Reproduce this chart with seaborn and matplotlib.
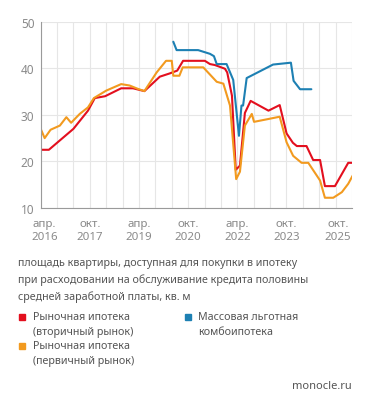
import pandas as pd
import matplotlib.pyplot as plt
import matplotlib.transforms as mtransforms
from matplotlib.lines import Line2D
import seaborn as sns

# values (sq. m)
red_dates = ['2016-04-01', '2016-07-01', '2017-04-01', '2017-09-10', '2017-11-25',
             '2018-03-20', '2018-09-15', '2019-01-25', '2019-06-01', '2019-11-20',
             '2020-03-10', '2020-06-01', '2020-08-05', '2021-04-05', '2021-06-01',
             '2021-07-25', '2021-11-15', '2021-12-10', '2022-02-01', '2022-03-15',
             '2022-05-01', '2022-06-25', '2022-08-28', '2023-03-15', '2023-07-18',
             '2023-10-03', '2023-12-12', '2024-01-25', '2024-05-12', '2024-07-25',
             '2024-10-10', '2024-12-03', '2025-03-25', '2025-08-20', '2025-10-10']
red_vals = [22.5, 22.5, 27.0, 30.9, 33.6,
            34.0, 35.7, 35.7, 35.1, 38.2,
            38.9, 39.5, 41.6, 41.6, 40.9,
            40.7, 39.9, 39.1, 34.1, 18.2,
            19.1, 30.4, 33.0, 30.9, 32.1,
            26.0, 24.0, 23.3, 23.3, 20.3,
            20.3, 14.7, 14.7, 19.7, 19.7]

orange_dates = ['2016-04-01', '2016-05-15', '2016-07-20', '2016-11-01', '2017-01-12',
                '2017-03-06', '2017-06-10', '2017-09-10', '2017-11-15', '2018-04-01',
                '2018-09-15', '2018-12-18', '2019-03-18', '2019-06-01', '2019-10-15',
                '2020-01-28', '2020-04-01', '2020-04-18', '2020-06-25', '2020-08-01',
                '2021-03-18', '2021-08-15', '2021-10-28', '2022-01-10', '2022-03-20',
                '2022-05-01', '2022-06-25', '2022-09-10', '2022-10-05', '2023-03-12',
                '2023-07-18', '2023-10-03', '2023-12-15', '2024-03-18', '2024-06-01',
                '2024-10-10', '2024-12-03', '2025-03-06', '2025-06-10', '2025-08-20',
                '2025-10-10']
orange_vals = [27.0, 25.0, 26.8, 27.7, 29.5,
               28.3, 30.2, 31.6, 33.6, 35.2,
               36.6, 36.3, 35.6, 35.1, 39.1,
               41.6, 41.6, 38.4, 38.4, 40.2,
               40.2, 37.1, 36.7, 32.0, 16.2,
               17.8, 27.7, 30.2, 28.5, 29.1,
               29.6, 24.1, 21.2, 19.7, 19.7,
               15.9, 12.2, 12.2, 13.4, 15.2,
               17.0]

blue_dates = ['2020-04-18', '2020-05-25', '2021-01-20', '2021-06-01', '2021-07-15',
              '2021-08-15', '2021-12-03', '2022-02-15', '2022-04-20', '2022-05-18',
              '2022-06-05', '2022-07-15', '2023-05-05', '2023-11-20', '2023-12-20',
              '2024-03-01', '2024-07-05']
blue_vals = [45.7, 43.9, 43.9, 43.1, 42.6,
             40.9, 40.9, 37.5, 25.5, 32.0,
             32.0, 37.9, 40.8, 41.2, 37.3,
             35.5, 35.5]

series_names = ['Рыночная ипотека\n(вторичный рынок)',
                'Рыночная ипотека\n(первичный рынок)',
                'Массовая льготная\nкомбоипотека']
colors = ['#e30f1e', '#f29a1f', '#1d80b3']

tick_dates = ['2016-04-01', '2017-10-01', '2019-04-01', '2020-10-01',
              '2022-04-01', '2023-10-01', '2025-10-01']
tick_labels = ['апр.\n2016', 'окт.\n2017', 'апр.\n2019', 'окт.\n2020',
               'апр.\n2022', 'окт.\n2023', 'окт.\n2025']

title = ('площадь квартиры, доступная для покупки в ипотеку\n'
         'при расходовании на обслуживание кредита половины\n'
         'средней заработной платы, кв. м')

frames = []
for name, d, v in zip(series_names, [red_dates, orange_dates, blue_dates],
                      [red_vals, orange_vals, blue_vals]):
    frames.append(pd.DataFrame({'date': pd.to_datetime(d), 'value': v, 'series': name}))
df = pd.concat(frames, ignore_index=True)

sns.set_style('white')
plt.rcParams['font.family'] = ['Noto Sans', 'DejaVu Sans']

grey = '#8a8a8a'
text_col = '#555555'
W, H = 371, 410

fig = plt.figure(figsize=(W / 100, H / 100), dpi=100)
ax = fig.add_axes([40.7 / W, 1 - 209 / H, (352 - 40.7) / W, (209 - 22.7) / H])

sns.lineplot(data=df, x='date', y='value', hue='series', hue_order=series_names,
             palette=colors, linewidth=1.5, legend=False, ax=ax, estimator=None)

ax.set_xlim(pd.Timestamp('2016-04-01'), pd.Timestamp('2025-10-01'))
ax.set_ylim(10, 50)
ax.set_yticks([10, 20, 30, 40, 50])
ax.set_xticks(pd.to_datetime(tick_dates))
ax.set_xticklabels(tick_labels)
ax.set_xticks(pd.date_range('2016-04-01', '2025-10-01', freq='6MS'), minor=True)
ax.set_xlabel('')
ax.set_ylabel('')

ax.grid(True, which='both', axis='x', color='#e6e6e6', linewidth=0.8)
ax.grid(True, which='major', axis='y', color='#e6e6e6', linewidth=0.8)
ax.set_axisbelow(True)

for s in ['top', 'right']:
    ax.spines[s].set_visible(False)
for s in ['left', 'bottom']:
    ax.spines[s].set_color('#9a9a9a')
    ax.spines[s].set_linewidth(0.8)

ax.tick_params(axis='y', which='major', direction='inout', length=5, width=0.8,
               color='#9a9a9a', labelcolor=grey, labelsize=8.5, pad=2)
ax.tick_params(axis='x', which='both', direction='out', length=3, width=0.6,
               color='#bbbbbb', labelcolor=grey, labelsize=8.3, pad=4)

labels = ax.get_xticklabels()
labels[0].set_transform(labels[0].get_transform() +
                        mtransforms.ScaledTranslation(4 / 100, 0, fig.dpi_scale_trans))
labels[-1].set_transform(labels[-1].get_transform() +
                         mtransforms.ScaledTranslation(-14 / 100, 0, fig.dpi_scale_trans))
for lab in labels:
    lab.set_linespacing(1.3)

fig.text(18 / W, 1 - 258 / H, title, ha='left', va='top', fontsize=7.7,
         color=text_col, linespacing=1.62)

# legend: squares aligned with the first line of each label
legend_pos = [(22, 318), (22, 347), (187.5, 318)]
for (x, y), name, c in zip(legend_pos, series_names, colors):
    fig.add_artist(Line2D([x / W], [1 - y / H], marker='s', linestyle='', color=c,
                          markersize=5, transform=fig.transFigure))
    fig.text((x + 11) / W, 1 - (y - 5.5) / H, name, ha='left', va='top', fontsize=7.7,
             color=text_col, linespacing=1.45)

fig.text(352 / W, 1 - 387 / H, 'monocle.ru', ha='right', va='center', fontsize=8,
         color=text_col)

fig.savefig('out.png', dpi=100)
